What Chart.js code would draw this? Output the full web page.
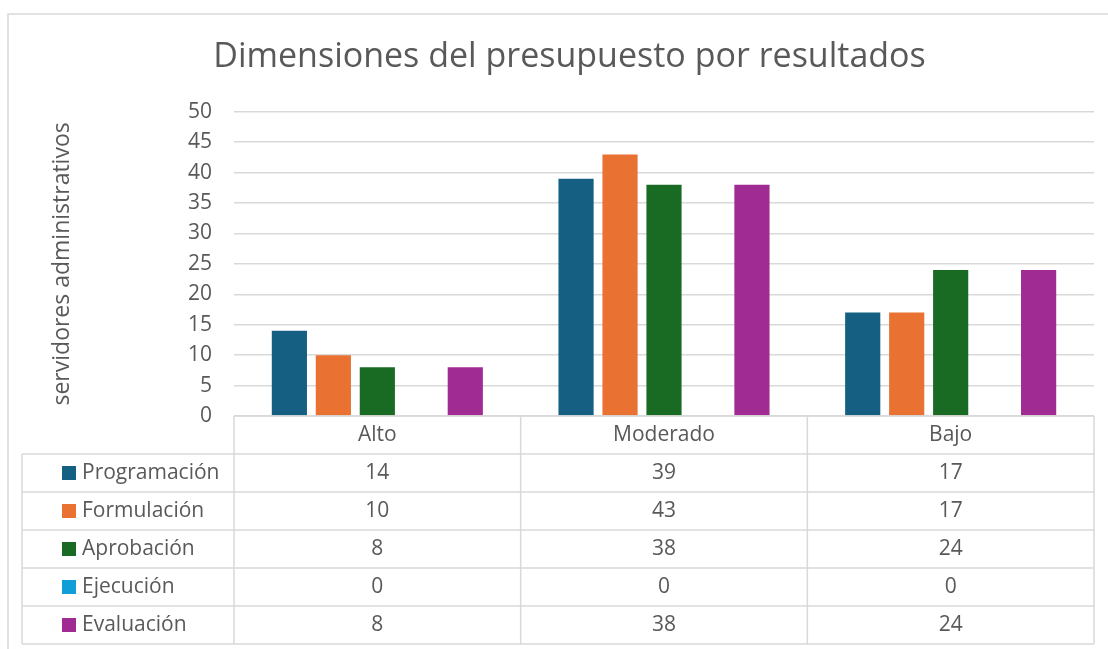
<!DOCTYPE html>
<html>
<head>
<meta charset="utf-8">
<script src="https://cdn.jsdelivr.net/npm/chart.js@4.4.1/dist/chart.umd.min.js"></script>
<style>
  html, body { margin:0; padding:0; background:#fff; }
  #wrap { width:1108px; height:649px; position:relative; }
</style>
</head>
<body>
<div id="wrap"><canvas id="barChart" width="1108" height="649"></canvas></div>
<script>
// datos
const categories = ['Alto', 'Moderado', 'Bajo'];
const programacion = [14, 39, 17];
const formulacion = [10, 43, 17];
const aprobacion = [8, 38, 24];
const ejecucion = [0, 0, 0];
const evaluacion = [8, 38, 24];
const seriesNames = ['Programación', 'Formulación', 'Aprobación', 'Ejecución', 'Evaluación'];
const yTicks = [0, 5, 10, 15, 20, 25, 30, 35, 40, 45, 50];

const colors = ['#156082', '#E97132', '#196B24', '#0F9ED5', '#A02B93'];
const FONT = "'Open Sans', 'Liberation Sans', sans-serif";
const TXT = '#595959';
const LINE = '#d9d9d9';

const seriesData = [programacion, formulacion, aprobacion, ejecucion, evaluacion];

// tabla de datos debajo del gráfico (como en Excel)
const dataTable = {
  id: 'dataTable',
  afterDraw(chart) {
    const c = chart.ctx, x = chart.scales.x, area = chart.chartArea;
    const rowH = 38, top = area.bottom, keyLeft = 22;
    const colW = (x.right - x.left) / categories.length;
    c.save();
    c.strokeStyle = LINE; c.lineWidth = 1.5;
    // marco del gráfico
    c.strokeRect(8, 14, 1200, 700);
    c.beginPath();
    c.moveTo(x.left, top); c.lineTo(x.right, top);
    for (let r = 1; r <= seriesNames.length + 1; r++) {
      const yy = top + r * rowH;
      c.moveTo(keyLeft, yy); c.lineTo(x.right, yy);
    }
    for (let i = 0; i <= categories.length; i++) {
      const xx = x.left + i * colW;
      c.moveTo(xx, top); c.lineTo(xx, top + (seriesNames.length + 1) * rowH);
    }
    c.moveTo(keyLeft, top + rowH); c.lineTo(keyLeft, top + (seriesNames.length + 1) * rowH);
    c.stroke();

    c.font = '21px ' + FONT;
    c.textBaseline = 'middle';
    seriesNames.forEach((name, r) => {
      const cy = top + (r + 1) * rowH + rowH / 2;
      c.fillStyle = colors[r];
      c.fillRect(62, cy - 7, 14, 14);
      c.fillStyle = TXT; c.textAlign = 'left';
      c.fillText(name, 82, cy);
      c.textAlign = 'center';
      seriesData[r].forEach((v, i) => {
        c.fillText(String(v), x.getPixelForValue(i), cy);
      });
    });
    c.restore();
  }
};

const ctx = document.getElementById('barChart').getContext('2d');
const chart = new Chart(ctx, {
  type: 'bar',
  data: {
    labels: categories,
    datasets: seriesNames.map((n, i) => ({
      label: n, data: seriesData[i], backgroundColor: colors[i],
      categoryPercentage: 0.767, barPercentage: 0.8
    }))
  },
  options: {
    responsive: false, animation: false,
    layout: { padding: { left: 45, right: 14, top: 0, bottom: 0 } },
    plugins: {
      legend: { display: false },
      tooltip: { enabled: false },
      title: {
        display: true, text: 'Dimensiones del presupuesto por resultados',
        color: TXT, font: { family: FONT, size: 34, weight: 'normal' },
        padding: { top: 37, bottom: 34 }
      }
    },
    scales: {
      x: {
        grid: { display: false, drawTicks: false },
        border: { display: false },
        ticks: { color: TXT, font: { family: FONT, size: 21 }, padding: 6 },
        afterFit: s => { s.height = 233; }
      },
      y: {
        min: 0, max: 50,
        afterBuildTicks: s => { s.ticks = yTicks.map(v => ({ value: v })); },
        grid: { color: LINE, lineWidth: 1.5, drawTicks: false },
        border: { display: false },
        ticks: { color: TXT, font: { family: FONT, size: 21 }, padding: 22 },
        title: { display: true, text: 'servidores administrativos', color: TXT, font: { family: FONT, size: 23 } },
        afterFit: s => { s.width = 189; }
      }
    }
  },
  plugins: [dataTable]
});
</script>
</body>
</html>
